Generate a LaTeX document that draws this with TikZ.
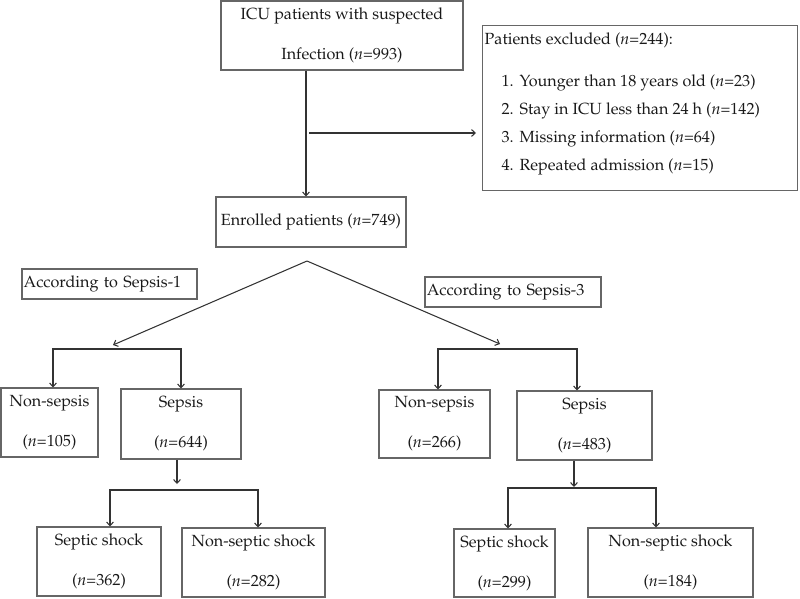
\documentclass[tikz,border=0pt]{standalone}
\usepackage[T1]{fontenc}
\usepackage{mathpazo}
\usetikzlibrary{arrows.meta}
\newcommand{\nval}[1]{(\textit{n}=#1)}
\begin{document}
\begin{tikzpicture}[x=0.25mm,y=-0.25mm,
  every node/.style={font=\fontsize{11.5pt}{28.4pt}\selectfont, text=black!90},
  box/.style={draw=black!60, line width=0.75pt, align=center, inner sep=0pt},
  boxsize/.style 2 args={minimum width=#1*0.25mm, minimum height=#2*0.25mm},
  link/.style={draw=black!80, line width=0.75pt},
  >={Straight Barb[length=2.6pt,width=4.8pt]}]
  \useasboundingbox (0,0) rectangle (800,599);

  \node[box, boxsize={242}{69}] (icu) at (342,35.5) {ICU patients with suspected\\Infection \nval{993}};
  \node[box, boxsize={315}{165}, anchor=north west] (excl) at (482,25) {};
  \node[anchor=north west, align=left, inner sep=0pt, font=\fontsize{11.5pt}{19.9pt}\selectfont] (excltext)
    at ([xshift=0.6mm,yshift=-1.95mm]excl.north west)
    {Patients excluded \nval{244}:\\[9.5pt]
     \hspace*{12pt}\makebox[12.8pt][l]{1.}Younger than 18 years old \nval{23}\\
     \hspace*{12pt}\makebox[12.8pt][l]{2.}Stay in ICU less than 24 h \nval{142}\\
     \hspace*{12pt}\makebox[12.8pt][l]{3.}Missing information \nval{64}\\
     \hspace*{12pt}\makebox[12.8pt][l]{4.}Repeated admission \nval{15}};
  \node[box, boxsize={190}{50}] (enrolled) at (311,222) {Enrolled patients \nval{749}};

  \node[box, boxsize={175}{30}, inner xsep=1.2pt, text width=42.9mm, align=left] (def1) at (109.5,284) {According to Sepsis-1};
  \node[box, boxsize={176}{30}, inner xsep=1.2pt, text width=43.1mm, align=left] (def3) at (513,292) {According to Sepsis-3};

  % Sepsis-1 branch
  \node[box, boxsize={97}{69}] (nonL) at (49.5,422.5) {Non-sepsis\\\nval{105}};
  \node[box, boxsize={120}{70}] (sepL) at (181,424) {Sepsis\\\nval{644}};
  \node[box, boxsize={124}{69}] (shockL) at (99,561.5) {Septic shock\\\nval{362}};
  \node[box, boxsize={143}{69}] (nshockL) at (253.5,562.5) {Non-septic shock\\\nval{282}};

  % Sepsis-3 branch
  \node[box, boxsize={111}{68}] (nonR) at (434.5,424) {Non-sepsis\\\nval{266}};
  \node[box, boxsize={135}{69}] (sepR) at (584.5,425.5) {Sepsis\\\nval{483}};
  \node[box, boxsize={101}{68}] (shockR) at (504.5,563) {Septic shock\\\nval{299}};
  \node[box, boxsize={165}{69}] (nshockR) at (670.5,562.5) {Non-septic shock\\\nval{184}};

  % junctions
  \coordinate (trunk) at (306,133);
  \coordinate (exfrom) at (309,133);
  \coordinate (fork) at (307,261);
  \coordinate (forkL) at (113,345);
  \coordinate (forkR) at (500,344);
  \coordinate (barL1) at (53,349);
  \coordinate (barL2) at (181,349);
  \coordinate (barR1) at (438,349);
  \coordinate (barR2) at (577,349);
  \coordinate (stemL) at (177,484);
  \coordinate (stemR) at (574,487);
  \coordinate (barLL1) at (110,490);
  \coordinate (barLL2) at (258,490);
  \coordinate (barRR1) at (508,488);
  \coordinate (barRR2) at (656,488);

  \draw[link, ->] (trunk |- icu.south) -- (trunk |- enrolled.north);
  \draw[link, ->, shorten >=1.5mm] (exfrom) -- (exfrom -| excl.west);
  \draw[link, ->] (fork) -- (forkL);
  \draw[link, ->] (fork) -- (forkR);

  \draw[link, <->] (barL1 |- nonL.north) -- (barL1) -- (barL2) -- (barL2 |- sepL.north);
  \draw[link, <->] (barR1 |- nonR.north) -- (barR1) -- (barR2) -- (barR2 |- sepR.north);

  \draw[link, ->] (stemL |- sepL.south) -- (stemL);
  \draw[link, ->] (stemR |- sepR.south) -- (stemR);
  \draw[link, <->] (barLL1 |- shockL.north) -- (barLL1) -- (barLL2) -- (barLL2 |- nshockL.north);
  \draw[link, <->] (barRR1 |- shockR.north) -- (barRR1) -- (barRR2) -- (barRR2 |- nshockR.north);
\end{tikzpicture}
\end{document}
